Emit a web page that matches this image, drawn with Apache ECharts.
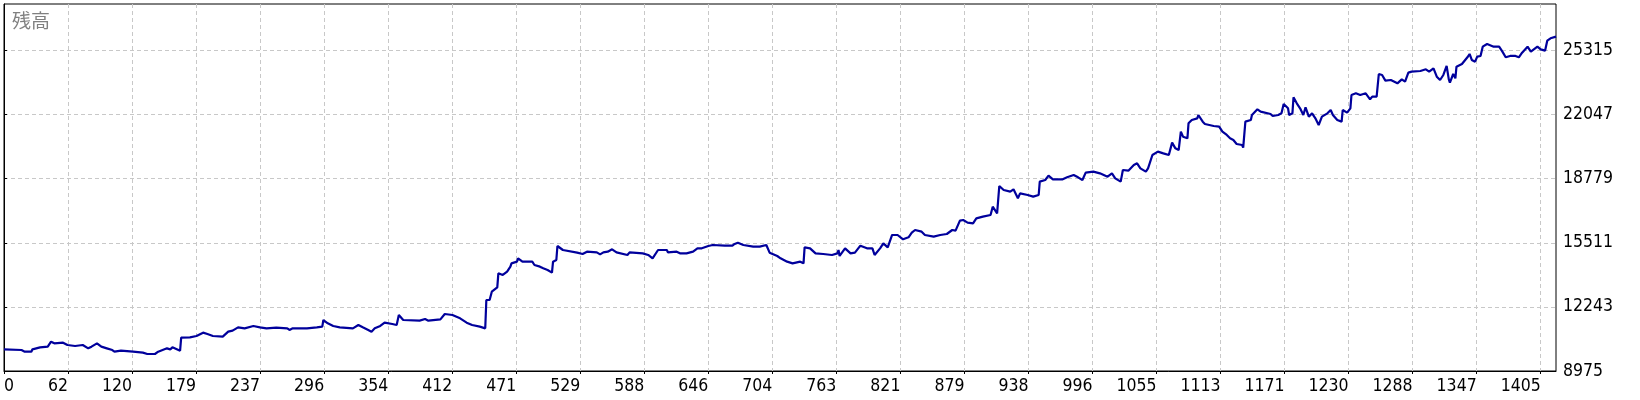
<!DOCTYPE html>
<html>
<head>
<meta charset="utf-8">
<script src="https://cdn.jsdelivr.net/npm/echarts@6/dist/echarts.min.js"></script>
<style>
html,body{margin:0;padding:0;background:#fff;}
#chart{width:1640px;height:400px;}
</style>
</head>
<body>
<div id="chart"></div>
<script>
// Trade number (x) and balance (y)
const trades = [0,16,19,25,26,33,40,43,46,54,58,65,72,77,80,85,89,94,99,101,107,118,127,131,138,141,145,149,152,154,161,162,170,176,182,186,191,200,205,209,214,220,228,234,240,249,259,261,264,277,286,291,292,296,301,307,319,324,328,333,336,339,344,348,355,359,361,365,380,385,388,399,403,410,417,423,428,435,440,441,444,446,451,452,456,460,463,464,469,470,474,483,485,490,493,497,501,502,505,506,511,524,529,533,542,545,548,552,556,560,570,572,584,589,593,598,606,607,615,618,624,630,634,638,644,648,659,666,668,671,676,685,691,697,700,707,710,716,721,728,731,732,737,742,749,757,762,763,764,769,774,778,783,789,794,796,801,804,808,812,817,822,827,830,833,839,842,850,856,862,867,870,874,877,881,886,889,895,902,904,908,910,914,920,923,927,929,936,941,946,947,952,955,959,968,972,978,982,986,989,996,1002,1009,1013,1016,1021,1023,1028,1033,1036,1039,1044,1046,1050,1055,1060,1065,1068,1071,1074,1076,1078,1082,1083,1086,1091,1092,1096,1098,1106,1111,1114,1118,1121,1124,1127,1132,1133,1135,1140,1141,1146,1149,1158,1160,1165,1168,1170,1174,1175,1178,1179,1182,1185,1188,1190,1193,1196,1199,1202,1205,1210,1213,1215,1219,1223,1224,1228,1231,1232,1236,1240,1245,1249,1251,1255,1257,1260,1263,1268,1274,1278,1281,1284,1287,1295,1300,1303,1307,1310,1313,1316,1319,1321,1322,1325,1327,1328,1333,1338,1340,1342,1345,1347,1350,1352,1356,1362,1367,1370,1373,1377,1382,1385,1388,1393,1396,1402,1405,1409,1411,1414,1419];
const balance = [10079,10045,9960,9960,10079,10181,10215,10470,10385,10419,10300,10249,10300,10130,10215,10385,10215,10130,10045,9960,10011,9960,9909,9841,9841,9960,10045,10130,10079,10181,10011,10674,10691,10759,10929,10861,10759,10725,10980,11031,11201,11150,11269,11201,11150,11184,11150,11065,11150,11150,11201,11235,11574,11405,11269,11201,11150,11320,11201,11065,10980,11150,11269,11439,11371,11320,11829,11574,11540,11625,11540,11608,11880,11829,11659,11439,11320,11235,11150,12594,12594,13019,13239,13953,13868,14038,14293,14463,14548,14718,14548,14548,14378,14293,14208,14123,13987,14548,14633,15346,15142,15006,14938,15057,15023,14922,15023,15057,15176,15023,14888,15023,14972,14888,14718,15142,15142,15023,15057,14972,14972,15057,15227,15227,15346,15397,15363,15363,15448,15516,15397,15312,15312,15397,15006,14837,14718,14548,14463,14548,14463,15278,15227,14972,14938,14888,14972,15142,14837,15227,14972,15006,15363,15227,15227,14888,15227,15482,15278,15907,15907,15686,15788,16026,16162,16077,15907,15822,15907,15958,16162,16128,16637,16671,16536,16502,16756,16841,16926,17351,17011,18404,18201,18116,18235,17776,18031,17946,17861,17946,18625,18710,18931,18744,18744,18846,18965,18846,18710,19084,19135,19050,18880,19050,18795,18625,19220,19186,19475,19560,19305,19135,19305,19985,20154,20069,19985,20613,20324,20239,21174,20919,20834,21599,21768,21853,22023,21684,21565,21463,21429,21174,21004,20834,20749,20545,20494,20358,21684,21768,22023,22312,22193,22074,21972,22023,22108,22584,22363,22023,22108,22924,22618,22363,22023,22414,21938,22108,21853,21514,21938,22108,22278,22023,21768,21684,22278,22142,22363,23043,23128,23043,23128,22822,22958,22958,24113,24062,23773,23807,23637,23841,23722,24181,24232,24266,24351,24232,24402,23977,23807,24062,24521,23841,23671,24113,23892,24487,24623,24963,25132,24827,24742,24997,25031,25506,25642,25506,25506,25251,24963,25031,25031,24963,25200,25506,25251,25506,25370,25302,25812,25931,26016];

// Axis tick labels as shown in the reference
const xTickLabels = ['0','62','120','179','237','296','354','412','471','529','588','646','704','763','821','879','938','996','1055','1113','1171','1230','1288','1347','1405'];
const yTickValues = [8975,12243,15511,18779,22047,25315];
const title = '残高';

const xLastTick = 1405;
const xStep = xLastTick / (xTickLabels.length - 1);
const xTickPos = xTickLabels.map((_, i) => i * xStep);

const chart = echarts.init(document.getElementById('chart'), null, {renderer: 'canvas'});
const font = "'DejaVu Sans Condensed', 'DejaVu Sans', sans-serif";
const splitStyle = {show: true, lineStyle: {color: '#c8c8c8', type: [4, 3], width: 1}};

chart.setOption({
  animation: false,
  backgroundColor: '#ffffff',
  title: {
    text: title, left: 12, top: 11, padding: 0,
    textStyle: {fontFamily: "'Noto Sans CJK JP', sans-serif", fontSize: 19, fontWeight: 'normal', color: '#808080'}
  },
  grid: {left: 4, top: 4, right: 84, bottom: 29, show: true, borderColor: '#000', borderWidth: 1, containLabel: false},
  xAxis: {
    type: 'value', min: 0, max: 1419,
    axisLine: {show: true, lineStyle: {color: '#000', width: 1}},
    axisTick: {show: true, length: 3, lineStyle: {color: '#000'}, customValues: xTickPos},
    axisLabel: {
      customValues: xTickPos, margin: 6, align: 'right', alignMinLabel: 'left',
      fontFamily: font, fontSize: 17.5, color: '#000',
      formatter: v => xTickLabels[Math.round(v / xStep)]
    },
    splitLine: splitStyle
  },
  yAxis: {
    type: 'value', position: 'right', min: 8975, max: 27680,
    axisLine: {show: true, lineStyle: {color: '#000', width: 1}},
    axisTick: {show: true, length: 3, lineStyle: {color: '#000'}, customValues: yTickValues},
    axisLabel: {
      customValues: yTickValues, margin: 7, fontFamily: font, fontSize: 17.5, color: '#000',
      formatter: v => String(Math.round(v))
    },
    splitLine: splitStyle
  },
  series: [{
    type: 'line', data: trades.map((t, i) => [t, balance[i]]),
    showSymbol: false, symbol: 'none',
    lineStyle: {color: '#00009c', width: 2.2},
    clip: true
  }]
});
</script>
</body>
</html>
